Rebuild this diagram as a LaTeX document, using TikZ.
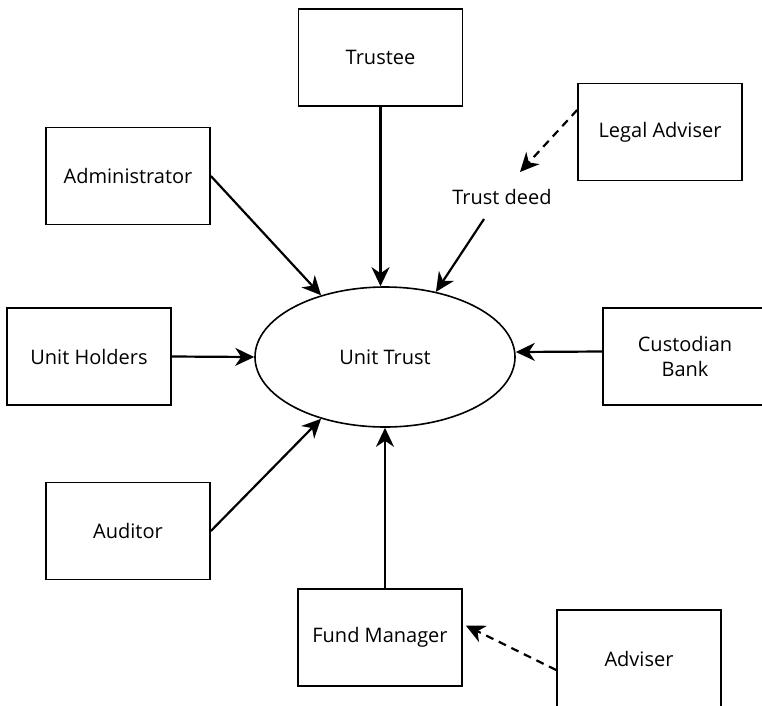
\documentclass[tikz,border=0pt]{standalone}
\usepackage{fontspec}
\setmainfont{Open Sans}
\usetikzlibrary{shapes.geometric,arrows.meta}
\begin{document}
\begin{tikzpicture}[x=1pt,y=-1pt,
  every node/.style={font=\fontsize{20}{25}\selectfont},
  entity/.style={draw=black,line width=1.7pt,rectangle,minimum width=164pt,minimum height=97pt,inner sep=2pt,align=center},
  hub/.style={draw=black,line width=1.6pt,ellipse,minimum width=260pt,minimum height=140pt,inner sep=0pt},
  arr/.style={line width=2.2pt,-{Stealth[length=19pt,width=18pt,inset=6pt]}},
  darr/.style={line width=2.2pt,dash pattern=on 8pt off 6pt,-{Stealth[length=19pt,width=18pt,inset=6pt]}}]
\useasboundingbox (0,0) rectangle (762,705);
\begin{scope}
\clip (0,0) rectangle (762,705);
\node[entity] (trustee) at (380.5,57.5) {Trustee};
\node[entity] (admin) at (128,176) {Administrator};
\node[entity] (legal) at (660,132) {Legal Adviser};
\node[entity] (holders) at (89,356.5) {Unit Holders};
\node[entity] (custodian) at (685,356.5) {Custodian\\Bank};
\node[entity] (auditor) at (128,531) {Auditor};
\node[entity] (fund) at (380,637.5) {Fund Manager};
\node[entity] (adviser) at (639,658.5) {Adviser};
\node[hub] (ut) at (385,357) {Unit Trust};
\node (td) at (502,197) {Trust deed};
\coordinate (tdout) at (484,219);
\coordinate (tdin) at (520,172);
\end{scope}
\draw[arr] (admin.east) -- (ut.136);
\draw[arr] (auditor.east) -- (ut.224);
\draw[arr] (trustee.south) -- (trustee.south |- ut.north);
\draw[arr] (fund.north -| ut.south) -- (ut.south);
\draw[arr] (holders.east) -- (ut.west);
\draw[arr] ([yshift=5pt]custodian.west) -- ([yshift=5pt]ut.east);
\draw[arr] (tdout) -- (ut.52);
\draw[darr] ([yshift=22pt]legal.west) -- (tdin);
\draw[darr] ([yshift=-11.5pt]adviser.west) -- ([xshift=3pt,yshift=12pt]fund.east);
\end{tikzpicture}
\end{document}
